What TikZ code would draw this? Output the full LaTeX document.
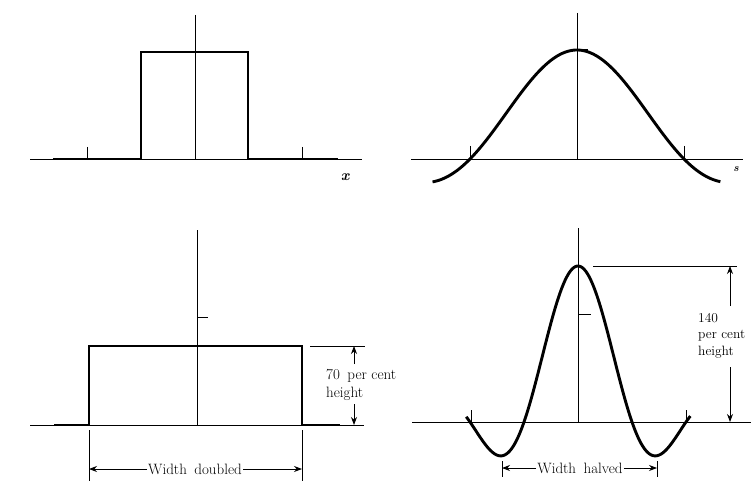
\documentclass[tikz,border=0pt]{standalone}
\usetikzlibrary{arrows.meta}
\begin{document}
\begin{tikzpicture}[x=1pt,y=-1pt,
  axis/.style={line width=0.9pt},
  curve/.style={line width=2.9pt, line join=miter},
  dim/.style={line width=0.8pt},
  dimarrow/.style={line width=0.8pt,-{Stealth[length=8pt,width=6pt]}},
  lbl/.style={font=\fontsize{15}{17}\selectfont, inner sep=1pt},
  varlbl/.style={font=\fontsize{15}{17}\selectfont\bfseries\itshape, inner sep=0pt}]
\useasboundingbox (0,0) rectangle (751,486);

% ---------- top left: rectangle ----------
\draw[axis] (30,159) -- (362,159);
\draw[axis] (195,15) -- (195,159);
\draw[axis] (87,147) -- (87,159);
\draw[axis] (302,147) -- (302,159);
\draw[curve] (53,159) -- (141,159) -- (141,52) -- (248,52) -- (248,159) -- (338,159);
\node[varlbl] (xlbl) at (345,177) {x};

% ---------- top right: sinc ----------
\draw[axis] (411,159) -- (743,159);
\draw[axis] (577,13) -- (577,159);
\draw[axis] (470,146) -- (470,159);
\draw[axis] (684,146) -- (684,159);
\draw[curve] plot[domain=-1.35:1.34, samples=121, smooth]
  ({577+107*\x},{159-109*sin(180*\x)/(pi*\x)});
\draw[line width=2pt] (577,50) -- (588,50);
\node[varlbl, font=\fontsize{11}{13}\selectfont\bfseries\itshape] (slbl) at (736,169) {s};

% ---------- bottom left: wide rectangle ----------
\draw[axis] (30,425) -- (364,425);
\draw[axis] (197,230) -- (197,425);
\draw[axis] (197,317) -- (208,317);
\draw[curve] (54,425) -- (89,425) -- (89,346) -- (302,346) -- (302,425) -- (340,425);
\draw[dim] (310,346) -- (365,346);
\coordinate (h70top) at (354,346);
\coordinate (h70bot) at (354,425);
\coordinate (h70a) at (354,364);
\coordinate (h70b) at (354,404);
\node[lbl, anchor=west] (t70) at (325,376) {70\hspace{0.5em}per cent};
\node[lbl, anchor=west] (t70h) at (325,394) {height};
\draw[dimarrow] (h70a) -- (h70top);
\draw[dimarrow] (h70b) -- (h70bot);
\coordinate (wdL1) at (89,430);
\coordinate (wdL2) at (89,481);
\coordinate (wdR1) at (302,430);
\coordinate (wdR2) at (302,481);
\draw[dim] (wdL1) -- (wdL2);
\draw[dim] (wdR1) -- (wdR2);
\node[lbl] (wd) at (195,469) {Width\hspace{0.5em}doubled};
\draw[dimarrow] (wd.west) -- (89,469);
\draw[dimarrow] (wd.east) -- (302,469);

% ---------- bottom right: narrow sinc ----------
\draw[axis] (412,422) -- (751,422);
\draw[axis] (578,228) -- (578,422);
\draw[axis] (578,314) -- (591,314);
\draw[axis] (471,410) -- (471,422);
\draw[axis] (686,410) -- (686,422);
\draw[curve] plot[domain=-2.07:2.08, samples=151, smooth]
  ({578+54*\x},{422-156*sin(180*\x)/(pi*\x)});
\draw[dim] (593,266) -- (737,266);
\coordinate (h140top) at (730,266);
\coordinate (h140bot) at (730,422);
\coordinate (h140a) at (730,306);
\coordinate (h140b) at (730,367);
\node[lbl, anchor=west, font=\fontsize{13.5}{15}\selectfont] (t140) at (697,318) {140};
\node[lbl, anchor=west, font=\fontsize{13.5}{15}\selectfont] (t140p) at (697,336) {per cent};
\node[lbl, anchor=west, font=\fontsize{13.5}{15}\selectfont] (t140h) at (697,352) {height};
\draw[dimarrow] (h140a) -- (h140top);
\draw[dimarrow] (h140b) -- (h140bot);
\draw[dim] (502,461) -- (502,477);
\draw[dim] (657,461) -- (657,477);
\node[lbl] (wh) at (580,468) {Width\hspace{0.5em}halved};
\draw[dimarrow] (wh.west) -- (502,468);
\draw[dimarrow] (wh.east) -- (657,468);
\end{tikzpicture}
\end{document}
